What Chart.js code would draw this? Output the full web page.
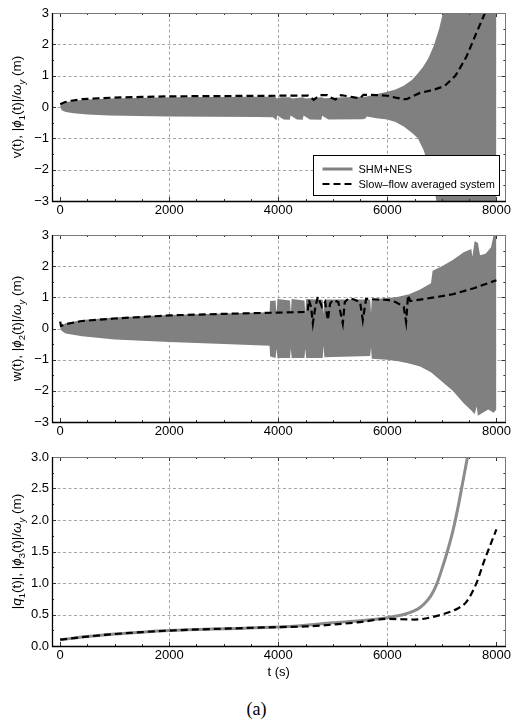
<!DOCTYPE html>
<html>
<head>
<meta charset="utf-8">
<script src="https://cdn.jsdelivr.net/npm/chart.js@4.4.1/dist/chart.umd.min.js"></script>
<style>
  html, body { margin: 0; padding: 0; background: #fff; }
  body { width: 513px; height: 728px; position: relative; overflow: hidden; }
  .panel { position: absolute; left: 0; }
  #caption { position: absolute; left: 0; top: 699px; width: 513px; text-align: center;
             font: 18px "Liberation Serif", "Times New Roman", serif; color: #000; }
</style>
</head>
<body>
<div class="panel" style="top:0px"><canvas id="c1" width="513" height="222"></canvas></div>
<div class="panel" style="top:222px"><canvas id="c2" width="513" height="222"></canvas></div>
<div class="panel" style="top:444px"><canvas id="c3" width="513" height="236"></canvas></div>
<div id="caption">(a)</div>
<script>
// ---------- data ----------
const xTickValues = [0, 2000, 4000, 6000, 8000];
const yTicksVW = [-3, -2, -1, 0, 1, 2, 3];
const yTicksQ = [0, 0.5, 1, 1.5, 2, 2.5, 3];

// v(t): envelope of the fast oscillation (upper / lower)
const vUpperT = [0, 30, 100, 250, 500, 900, 1400, 2000, 2800, 3600, 3950, 3970, 4050, 4210, 4260, 4448, 4500, 4790, 4850, 5200, 5600, 5700, 5850, 6000, 6150, 6300, 6450, 6550, 6650, 6750, 6850, 6950, 7020, 8000];
const vUpperV = [0.02, 0.1, 0.15, 0.2, 0.24, 0.27, 0.29, 0.31, 0.32, 0.33, 0.33, 0.27, 0.31, 0.31, 0.27, 0.31, 0.27, 0.31, 0.28, 0.31, 0.33, 0.37, 0.43, 0.49, 0.56, 0.68, 0.86, 1.05, 1.27, 1.55, 1.95, 2.5, 3.0, 3.0];
const vLowerT = [0, 30, 100, 250, 500, 900, 1400, 2000, 2800, 3600, 3900, 3967, 3980, 4100, 4210, 4225, 4340, 4448, 4463, 4580, 4790, 4805, 4920, 5550, 5600, 5620, 5800, 6000, 6150, 6300, 6450, 6560, 6670, 6770, 6850, 6900, 8000];
const vLowerV = [0, -0.1, -0.16, -0.2, -0.24, -0.27, -0.29, -0.3, -0.31, -0.32, -0.33, -0.42, -0.27, -0.4, -0.41, -0.27, -0.4, -0.41, -0.27, -0.4, -0.41, -0.28, -0.4, -0.39, -0.37, -0.3, -0.36, -0.4, -0.48, -0.62, -0.82, -1.0, -1.4, -2.0, -2.55, -3.0, -3.0];
// |phi1(t)|/omega_y from the slow-flow model
const phi1T = [0, 80, 200, 400, 700, 1000, 1500, 2000, 3000, 4000, 4550, 4650, 4760, 4900, 4960, 5050, 5150, 5250, 5320, 5420, 5500, 5560, 5800, 6000, 6150, 6300, 6350, 6600, 6850, 7050, 7250, 7450, 7630, 7790];
const phi1V = [0.09, 0.15, 0.2, 0.25, 0.28, 0.3, 0.32, 0.34, 0.35, 0.36, 0.36, 0.23, 0.38, 0.38, 0.3, 0.24, 0.38, 0.35, 0.33, 0.3, 0.28, 0.39, 0.38, 0.36, 0.3, 0.25, 0.25, 0.45, 0.55, 0.67, 1.0, 1.6, 2.35, 3.0];

// w(t): envelope of the fast oscillation (upper / lower)
const wUpperT = [0, 30, 100, 400, 1000, 2000, 3000, 3840, 3850, 3950, 3967, 3985, 4215, 4230, 4245, 4480, 4495, 4510, 4815, 4830, 4845, 5685, 5700, 5715, 6000, 6200, 6400, 6600, 6800, 6830, 7000, 7200, 7400, 7540, 7560, 7600, 7660, 7700, 7800, 7900, 7950, 8000];
const wUpperV = [0, 0.1, 0.17, 0.27, 0.35, 0.43, 0.48, 0.52, 0.88, 0.9, 0.45, 0.95, 0.9, 0.45, 0.95, 0.9, 0.45, 0.95, 0.92, 0.45, 0.93, 0.93, 0.5, 0.95, 0.97, 1.02, 1.1, 1.25, 1.45, 1.85, 2.0, 2.2, 2.45, 2.55, 2.3, 2.8, 2.75, 2.35, 2.4, 2.6, 3.0, 3.0];
const wLowerT = [0, 30, 100, 400, 1000, 2000, 3000, 3840, 3850, 3950, 3967, 3985, 4215, 4230, 4245, 4480, 4495, 4510, 4815, 4830, 4845, 5685, 5700, 5715, 6000, 6200, 6400, 6600, 6800, 7000, 7200, 7400, 7550, 7600, 7640, 7660, 7750, 7850, 7950, 8000];
const wLowerV = [0, -0.08, -0.16, -0.25, -0.35, -0.43, -0.5, -0.55, -0.9, -0.95, -0.65, -0.95, -0.95, -0.65, -0.95, -0.95, -0.65, -0.95, -0.95, -0.55, -0.92, -0.88, -0.6, -0.97, -1.0, -1.05, -1.12, -1.22, -1.4, -1.7, -2.0, -2.4, -2.65, -2.75, -2.5, -2.8, -2.7, -2.6, -2.7, -2.6];
// |phi2(t)|/omega_y from the slow-flow model
const phi2T = [0, 15, 100, 400, 1000, 2000, 3000, 4000, 4500, 4540, 4560, 4600, 4634, 4680, 4726, 4800, 4860, 4908, 4950, 5000, 5100, 5183, 5220, 5300, 5400, 5500, 5550, 5610, 5800, 6000, 6150, 6300, 6344, 6380, 6420, 6800, 7200, 7600, 8000];
const phi2V = [0.22, 0.08, 0.14, 0.24, 0.32, 0.42, 0.47, 0.51, 0.53, 0.55, 0.92, 0.7, 0.16, 0.7, 1.02, 0.7, 0.85, 0.27, 0.8, 0.92, 0.85, 0.16, 0.85, 0.98, 0.92, 0.85, 0.27, 0.95, 0.93, 0.92, 0.85, 0.7, 0.21, 1.07, 0.88, 0.98, 1.1, 1.3, 1.55];

// |q1(t)| (full model) and |phi3(t)|/omega_y (slow flow)
const q1T = [0, 500, 1000, 1500, 2000, 3000, 4000, 4500, 5000, 5500, 6000, 6300, 6500, 6600, 6700, 6800, 6900, 7000, 7100, 7200, 7300, 7400, 7470];
const q1V = [0.1, 0.15, 0.19, 0.22, 0.245, 0.275, 0.3, 0.33, 0.37, 0.4, 0.45, 0.5, 0.56, 0.61, 0.69, 0.8, 0.97, 1.22, 1.5, 1.82, 2.22, 2.68, 3.0];
const phi3T = [0, 500, 1000, 1500, 2000, 3000, 4000, 4500, 5000, 5500, 6000, 6500, 7000, 7300, 7450, 7630, 7780, 7900, 8000];
const phi3V = [0.1, 0.15, 0.19, 0.22, 0.245, 0.275, 0.3, 0.31, 0.34, 0.38, 0.43, 0.42, 0.5, 0.6, 0.7, 0.99, 1.36, 1.63, 1.85];

// ---------- helpers ----------
const FONT = '"Liberation Sans", Arial, Helvetica, sans-serif';
const GRAY = '#808080';
const toPoints = (ts, vs) => ts.map((t, i) => ({ x: t, y: vs[i] }));
const minusFmt = v => (v < 0 ? '\u2212' + Math.abs(v) : String(v));

function drawRich(ctx, segs, size) {
  const sub = size * 0.7;
  const fontFor = s => (s.i ? 'italic ' : '') + (s.s ? sub : size) + 'px ' + FONT;
  let w = 0;
  segs.forEach(s => { ctx.font = fontFor(s); w += ctx.measureText(s.t).width; });
  let x = -w / 2;
  segs.forEach(s => {
    ctx.font = fontFor(s);
    ctx.fillText(s.t, x, size * 0.36 + (s.s ? size * 0.3 : 0));
    x += ctx.measureText(s.t).width;
  });
}

const framePlugin = {
  id: 'frame',
  beforeDatasetsDraw(chart, args, o) {
    const { ctx, chartArea: a, scales: { x, y } } = chart;
    ctx.save();
    ctx.strokeStyle = '#a5a5a5';
    ctx.lineWidth = 1;
    ctx.setLineDash([3, 2.5]);
    o.gridX.forEach(v => {
      const px = Math.round(x.getPixelForValue(v)) + 0.5;
      ctx.beginPath(); ctx.moveTo(px, a.top); ctx.lineTo(px, a.bottom); ctx.stroke();
    });
    o.gridY.forEach(v => {
      const py = Math.round(y.getPixelForValue(v)) + 0.5;
      ctx.beginPath(); ctx.moveTo(a.left, py); ctx.lineTo(a.right, py); ctx.stroke();
    });
    ctx.restore();
  },
  afterDatasetsDraw(chart, args, o) {
    const { ctx, chartArea: a, scales: { x, y } } = chart;
    ctx.save();
    // tick marks, pointing inwards on all four sides
    ctx.strokeStyle = '#333';
    ctx.lineWidth = 1;
    for (let v = 0; v <= 8000; v += o.xMinor) {
      const px = Math.round(x.getPixelForValue(v)) + 0.5;
      const len = v % 2000 === 0 ? 4 : 2;
      ctx.beginPath();
      ctx.moveTo(px, a.bottom); ctx.lineTo(px, a.bottom - len);
      ctx.moveTo(px, a.top); ctx.lineTo(px, a.top + len);
      ctx.stroke();
    }
    const n = Math.round((y.max - y.min) / o.yMinor);
    for (let k = 0; k <= n; k++) {
      const v = y.min + k * o.yMinor;
      const py = Math.round(y.getPixelForValue(v)) + 0.5;
      const major = Math.abs(v / o.yMajor - Math.round(v / o.yMajor)) < 1e-6;
      const len = major ? 4 : 2;
      ctx.beginPath();
      ctx.moveTo(a.left, py); ctx.lineTo(a.left + len, py);
      ctx.moveTo(a.right, py); ctx.lineTo(a.right - len, py);
      ctx.stroke();
    }
    // frame
    ctx.strokeStyle = '#777';
    ctx.strokeRect(Math.round(a.left) + 0.5, Math.round(a.top) + 0.5,
                   Math.round(a.right - a.left), Math.round(a.bottom - a.top));
    ctx.strokeStyle = '#000';
    ctx.lineWidth = 1.3;
    ctx.beginPath();
    ctx.moveTo(Math.round(a.left) + 0.5, Math.round(a.top));
    ctx.lineTo(Math.round(a.left) + 0.5, Math.round(a.bottom) + 0.5);
    ctx.lineTo(Math.round(a.right) + 1, Math.round(a.bottom) + 0.5);
    ctx.stroke();
    ctx.restore();
  },
  afterDraw(chart, args, o) {
    const { ctx, chartArea: a } = chart;
    // rotated axis title with italic symbols and subscripts
    ctx.save();
    ctx.fillStyle = '#000';
    ctx.textBaseline = 'alphabetic';
    ctx.translate(o.titleX, (a.top + a.bottom) / 2);
    ctx.rotate(-Math.PI / 2);
    drawRich(ctx, o.title, 13.5);
    ctx.restore();

    if (o.legend) {
      const ds = chart.data.datasets;
      const items = ds.filter(d => d.label);
      const w = 186, h = 40;
      const bx = Math.round(a.right - 6 - w) + 0.5, by = Math.round(a.bottom - 6 - h) + 0.5;
      ctx.save();
      ctx.fillStyle = '#fff';
      ctx.fillRect(bx, by, w, h);
      ctx.strokeStyle = '#000';
      ctx.lineWidth = 1;
      ctx.strokeRect(bx, by, w, h);
      ctx.font = '11px ' + FONT;
      ctx.textBaseline = 'middle';
      items.forEach((d, i) => {
        const ly = by + 13.5 + i * 15;
        ctx.save();
        if (d.legendStyle === 'dash') {
          ctx.strokeStyle = d.borderColor;
          ctx.lineWidth = d.borderWidth;
          ctx.setLineDash(d.borderDash);
        } else {
          ctx.strokeStyle = d.backgroundColor;
          ctx.lineWidth = 3;
        }
        ctx.beginPath(); ctx.moveTo(bx + 9, ly); ctx.lineTo(bx + 39, ly); ctx.stroke();
        ctx.restore();
        ctx.fillStyle = '#000';
        ctx.fillText(d.label, bx + 45, ly + 0.5);
      });
      ctx.restore();
    }
  }
};

function makeChart(id, cfg) {
  return new Chart(document.getElementById(id), {
    type: 'line',
    data: { datasets: cfg.datasets },
    plugins: [framePlugin],
    options: {
      responsive: false,
      animation: false,
      events: [],
      layout: { padding: { top: 13, right: 7, left: 0, bottom: 0 } },
      elements: { point: { radius: 0 }, line: { tension: 0 } },
      plugins: {
        legend: { display: false },
        tooltip: { enabled: false },
        frame: cfg.frame
      },
      scales: {
        x: {
          type: 'linear', min: -150, max: 8165,
          afterBuildTicks: s => { s.ticks = xTickValues.map(v => ({ value: v })); },
          afterFit: s => { s.height = cfg.xHeight; },
          grid: { display: false, drawTicks: false },
          border: { display: false },
          ticks: { font: { family: FONT, size: 13 }, color: '#000', padding: 2,
                   maxRotation: 0, autoSkip: false, callback: v => String(v) },
          title: cfg.xTitle
            ? { display: true, text: cfg.xTitle, font: { family: FONT, size: 13 }, color: '#000', padding: 0 }
            : { display: false }
        },
        y: {
          type: 'linear', min: cfg.yMin, max: cfg.yMax,
          afterBuildTicks: s => { s.ticks = cfg.yTicks.map(v => ({ value: v })); },
          afterFit: s => { s.width = 52; },
          grid: { display: false, drawTicks: false },
          border: { display: false },
          ticks: { font: { family: FONT, size: 13 }, color: '#000', padding: 3,
                   autoSkip: false, callback: cfg.yFmt }
        }
      }
    }
  });
}

function envelopeSets(upT, upV, loT, loV, label) {
  return [
    { label: label, legendStyle: 'solid', data: toPoints(upT, upV), fill: '+1',
      backgroundColor: GRAY, borderColor: GRAY, borderWidth: 0, pointRadius: 0, order: 2, clip: 0 },
    { label: '', data: toPoints(loT, loV), fill: false,
      backgroundColor: GRAY, borderColor: GRAY, borderWidth: 0, pointRadius: 0, order: 3, clip: 0 }
  ];
}
function dashedSet(ts, vs, label, smooth) {
  return { label: label, legendStyle: 'dash', data: toPoints(ts, vs), fill: false,
           borderColor: '#000', borderWidth: 2.2, borderDash: [7, 4], pointRadius: 0, order: 1, clip: 0,
           cubicInterpolationMode: smooth ? 'monotone' : 'default' };
}

const gridX = [2000, 4000, 6000];

makeChart('c1', {
  datasets: [...envelopeSets(vUpperT, vUpperV, vLowerT, vLowerV, 'SHM+NES'),
             dashedSet(phi1T, phi1V, 'Slow\u2013flow averaged system', false)],
  yMin: -3, yMax: 3, yTicks: yTicksVW, yFmt: minusFmt, xHeight: 21,
  frame: { gridX, gridY: [-2, -1, 0, 1, 2], xMinor: 500, yMajor: 1, yMinor: 0.5, titleX: 16, legend: true,
           title: [{ t: 'v(t), |' }, { t: '\u03D5', i: true }, { t: '1', s: true }, { t: '(t)|/' },
                   { t: '\u03C9', i: true }, { t: 'y', i: true, s: true }, { t: ' (m)' }] }
});

makeChart('c2', {
  datasets: [...envelopeSets(wUpperT, wUpperV, wLowerT, wLowerV, ''),
             dashedSet(phi2T, phi2V, '', false)],
  yMin: -3, yMax: 3, yTicks: yTicksVW, yFmt: minusFmt, xHeight: 22,
  frame: { gridX, gridY: [-2, -1, 0, 1, 2], xMinor: 500, yMajor: 1, yMinor: 0.5, titleX: 16, legend: false,
           title: [{ t: 'w(t), |' }, { t: '\u03D5', i: true }, { t: '2', s: true }, { t: '(t)|/' },
                   { t: '\u03C9', i: true }, { t: 'y', i: true, s: true }, { t: ' (m)' }] }
});

makeChart('c3', {
  datasets: [
    { label: 'SHM+NES', data: toPoints(q1T, q1V), fill: false, borderColor: '#8c8c8c',
      borderWidth: 3, pointRadius: 0, order: 2, clip: 0, cubicInterpolationMode: 'monotone' },
    dashedSet(phi3T, phi3V, 'Slow\u2013flow averaged system', true)
  ],
  yMin: 0, yMax: 3, yTicks: yTicksQ, yFmt: v => v.toFixed(1), xHeight: 34, xTitle: 't (s)',
  frame: { gridX, gridY: [0.5, 1, 1.5, 2, 2.5], xMinor: 500, yMajor: 0.5, yMinor: 0.25, titleX: 16, legend: false,
           title: [{ t: '|' }, { t: 'q', i: true }, { t: '1', s: true }, { t: '(t)|, |' }, { t: '\u03D5', i: true },
                   { t: '3', s: true }, { t: '(t)|/' }, { t: '\u03C9', i: true }, { t: 'y', i: true, s: true },
                   { t: ' (m)' }] }
});
</script>
</body>
</html>
